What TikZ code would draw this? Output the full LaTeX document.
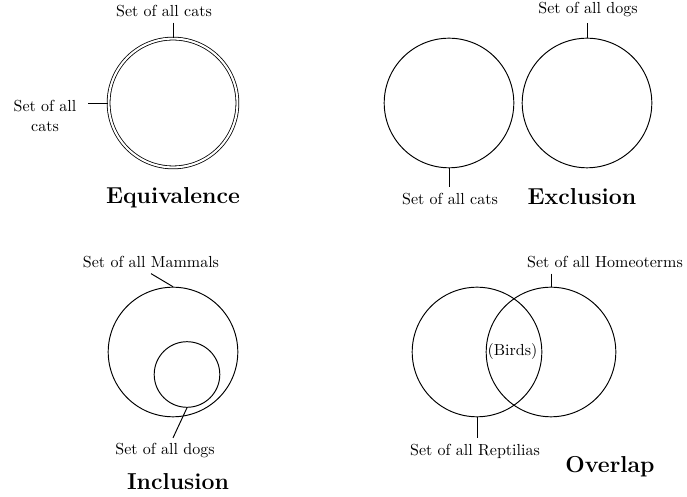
\documentclass[tikz,border=0pt]{standalone}
\usepackage{tikz}
\usetikzlibrary{positioning}

\begin{document}
\begin{tikzpicture}[
    x=0.625pt, y=-0.625pt, line width=0.6pt,
    set/.style={circle, draw, inner sep=0pt, minimum size=81pt},
    smallset/.style={circle, draw, inner sep=0pt, minimum size=41pt},
    lbl/.style={font=\normalsize, align=center},
    kind/.style={font=\Large\bfseries}
  ]
    \useasboundingbox (0,0) rectangle (687,497);

    % Equivalence
    \node[set, double, double distance=1.3pt, line width=0.5pt, minimum size=80.5pt] (cats) at (173,103) {};
    \node[lbl] (catstop) at (164,11) {Set of all cats};
    \node[lbl, inner xsep=7pt] (catsleft) at (45,116) {Set of all\\cats};
    \node[kind] (equiv) at (173,198) {Equivalence};
    \draw (cats.north |- catstop.south) -- (cats.north);
    \draw (catsleft.east |- cats.west) -- (cats.west);

    % Exclusion
    \node[set] (excats) at (449,103) {};
    \node[set] (exdogs) at (587,103) {};
    \node[lbl] (dogslbl) at (588,10) {Set of all dogs};
    \node[lbl] (excatslbl) at (450,199) {Set of all cats};
    \node[kind] (exclu) at (582,197) {Exclusion};
    \draw (exdogs.north |- dogslbl.south) -- (exdogs.north);
    \draw (excats.south) -- (excats.south |- excatslbl.north);

    % Inclusion
    \node[set] (mammals) at (173,352) {};
    \node[smallset] (dogs) at (187,374.5) {};
    \node[lbl] (mammalslbl) at (151,262) {Set of all Mammals};
    \node[lbl] (dogslbl2) at (165,451) {Set of all dogs};
    \node[kind] (inclu) at (178,482) {Inclusion};
    \draw (mammalslbl.south) -- (mammals.north);
    \draw (dogs.south) -- (dogslbl2.north -| mammals.south);

    % Overlap
    \node[set] (reptiles) at (477,352) {};
    \node[set] (homeo) at (551,352) {};
    \node[lbl] (birds) at (512.5,352) {(Birds)};
    \node[lbl] (homeolbl) at (605,262) {Set of all Homeoterms};
    \node[lbl] (reptileslbl) at (475,451) {Set of all Reptilias};
    \node[kind] (overlap) at (610,467) {Overlap};
    \draw (homeo.north |- homeolbl.south) -- (homeo.north);
    \draw (reptiles.south) -- (reptiles.south |- reptileslbl.north);
\end{tikzpicture}
\end{document}
